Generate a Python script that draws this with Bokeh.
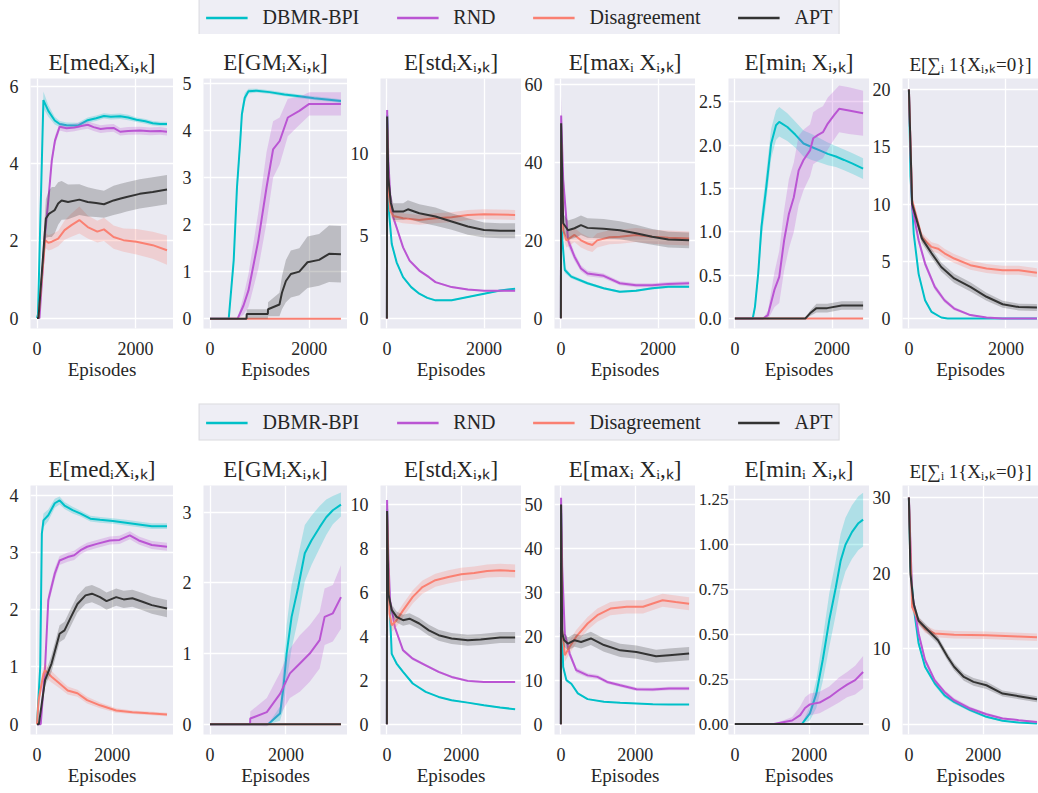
from bokeh.plotting import figure
from bokeh.models import Range1d, FixedTicker, NumeralTickFormatter, Legend, LegendItem
from bokeh.layouts import column, row
from bokeh.embed import file_html
from bokeh.resources import INLINE

# ---------------- data ----------------
METHODS = ["DBMR-BPI", "RND", "Disagreement", "APT"]
COLORS = ["#00C0C8", "#BA55D3", "#FA8072", "#333333"]
X_TICKS = [0, 2000]
X_LABEL = "Episodes"
TITLES = ["E[medᵢXᵢ,ₖ]", "E[GMᵢXᵢ,ₖ]", "E[stdᵢXᵢ,ₖ]",
          "E[maxᵢ Xᵢ,ₖ]", "E[minᵢ Xᵢ,ₖ]", "E[∑ᵢ 1{Xᵢ,ₖ=0}]"]

T_YTICKS = [[0, 2, 4, 6], [0, 1, 2, 3, 4, 5], [0, 5, 10], [0, 20, 40, 60],
            [0, 0.5, 1, 1.5, 2, 2.5], [0, 5, 10, 15, 20]]
B_YTICKS = [[0, 1, 2, 3, 4], [0, 1, 2, 3], [0, 2, 4, 6, 8, 10], [0, 10, 20, 30, 40, 50],
            [0, 0.25, 0.5, 0.75, 1, 1.25], [0, 10, 20, 30]]

ZERO_T_X = [0, 2640]
ZERO_B_X = [0, 3450]
ZERO_Y = [0, 0]
ZERO_E = [0, 0]

# ---- top row: median
T_MED_DBMR_X = [0, 20, 130, 230, 360, 460, 600, 830, 1030, 1200, 1360, 1500, 1690, 1850, 2020, 2200, 2350, 2500, 2640]
T_MED_DBMR_Y = [0, 0.1, 5.65, 5.37, 5.12, 5.03, 5.0, 4.99, 5.13, 5.18, 5.24, 5.22, 5.23, 5.2, 5.14, 5.1, 5.05, 5.03, 5.03]
T_MED_DBMR_E = [0, 0.05, 0.22, 0.15, 0.1, 0.08, 0.07, 0.07, 0.07, 0.07, 0.07, 0.07, 0.07, 0.07, 0.06, 0.06, 0.06, 0.06, 0.06]
T_MED_RND_X = [0, 50, 165, 230, 300, 365, 460, 600, 760, 900, 1030, 1150, 1290, 1420, 1555, 1690, 1850, 2085, 2300, 2500, 2640]
T_MED_RND_Y = [0, 0, 2.2, 3.05, 4.08, 4.6, 4.96, 4.92, 4.94, 4.98, 5.01, 4.95, 4.9, 4.92, 4.93, 4.83, 4.85, 4.86, 4.84, 4.85, 4.83]
T_MED_RND_E = [0, 0, 0.15, 0.15, 0.15, 0.12, 0.1, 0.1, 0.1, 0.1, 0.1, 0.1, 0.1, 0.1, 0.1, 0.1, 0.1, 0.1, 0.1, 0.1, 0.1]
T_MED_DIS_X = [0, 30, 165, 230, 300, 430, 560, 700, 860, 1030, 1225, 1360, 1555, 1755, 2020, 2350, 2640]
T_MED_DIS_Y = [0, 0, 2.02, 1.95, 1.98, 2.06, 2.28, 2.41, 2.54, 2.36, 2.24, 2.30, 2.1, 2.02, 1.98, 1.89, 1.76]
T_MED_DIS_E = [0, 0, 0.2, 0.2, 0.2, 0.2, 0.25, 0.3, 0.35, 0.3, 0.28, 0.3, 0.3, 0.3, 0.33, 0.35, 0.38]
T_MED_APT_X = [0, 30, 180, 240, 300, 360, 430, 500, 630, 860, 1030, 1200, 1360, 1555, 1700, 1820, 2085, 2350, 2640]
T_MED_APT_Y = [0, 0, 2.58, 2.7, 2.75, 2.8, 2.97, 3.05, 3.01, 3.07, 3.01, 2.98, 2.95, 3.05, 3.1, 3.14, 3.22, 3.27, 3.33]
T_MED_APT_E = [0, 0, 0.5, 0.6, 0.65, 0.6, 0.55, 0.5, 0.45, 0.4, 0.38, 0.36, 0.35, 0.38, 0.38, 0.38, 0.38, 0.38, 0.38]

# ---- top row: geometric mean
T_GM_DBMR_X = [0, 377, 477, 543, 609, 642, 700, 775, 940, 1200, 1500, 1800, 2100, 2400, 2640]
T_GM_DBMR_Y = [0, 0, 1.24, 2.79, 3.78, 4.35, 4.7, 4.84, 4.85, 4.82, 4.77, 4.73, 4.69, 4.66, 4.63]
T_GM_DBMR_E = [0, 0, 0.15, 0.2, 0.2, 0.15, 0.1, 0.05, 0.04, 0.04, 0.04, 0.04, 0.04, 0.04, 0.04]
T_GM_RND_X = [0, 556, 675, 775, 973, 1139, 1271, 1404, 1569, 1800, 2000, 2300, 2640]
T_GM_RND_Y = [0, 0, 0.28, 0.6, 1.66, 2.79, 3.6, 3.78, 4.28, 4.42, 4.57, 4.57, 4.57]
T_GM_RND_E = [0, 0, 0.2, 0.35, 0.6, 0.75, 0.6, 0.5, 0.4, 0.3, 0.25, 0.25, 0.25]
T_GM_APT_X = [0, 735, 740, 1165, 1170, 1400, 1450, 1530, 1630, 1800, 1965, 2200, 2400, 2640]
T_GM_APT_Y = [0, 0, 0.1, 0.1, 0.2, 0.3, 0.55, 0.8, 0.95, 1.0, 1.2, 1.25, 1.38, 1.37]
T_GM_APT_E = [0, 0, 0.1, 0.1, 0.15, 0.25, 0.35, 0.45, 0.5, 0.5, 0.55, 0.55, 0.6, 0.6]

# ---- top row: std
T_STD_DBMR_X = [0, 5, 25, 47, 100, 200, 333, 500, 667, 833, 1000, 1333, 1667, 2000, 2333, 2640]
T_STD_DBMR_Y = [0, 12.3, 9.0, 6.3, 4.5, 3.4, 2.5, 1.9, 1.5, 1.25, 1.1, 1.1, 1.3, 1.5, 1.7, 1.8]
T_STD_DBMR_E = [0, 0.5, 0.4, 0.3, 0.2, 0.1, 0.08, 0.06, 0.05, 0.05, 0.05, 0.05, 0.05, 0.05, 0.05, 0.05]
T_STD_RND_X = [0, 5, 30, 67, 120, 200, 333, 467, 667, 867, 1000, 1333, 1667, 2000, 2640]
T_STD_RND_Y = [0, 12.6, 9.5, 7.5, 6.2, 5.5, 4.3, 3.5, 2.9, 2.5, 2.2, 1.9, 1.75, 1.68, 1.68]
T_STD_RND_E = [0, 0.8, 0.5, 0.3, 0.2, 0.15, 0.1, 0.1, 0.08, 0.07, 0.06, 0.05, 0.05, 0.05, 0.05]
T_STD_DIS_X = [0, 5, 30, 70, 133, 333, 667, 1000, 1333, 1667, 2000, 2640]
T_STD_DIS_Y = [0, 11.5, 8.0, 6.5, 6.2, 6.06, 5.96, 6.06, 6.12, 6.26, 6.3, 6.26]
T_STD_DIS_E = [0, 0.8, 0.4, 0.3, 0.3, 0.3, 0.3, 0.3, 0.3, 0.3, 0.3, 0.3]
T_STD_APT_X = [0, 5, 30, 80, 133, 333, 433, 667, 1000, 1333, 1667, 2000, 2333, 2640]
T_STD_APT_Y = [0, 12.2, 8.5, 7.0, 6.46, 6.46, 6.6, 6.36, 6.16, 5.86, 5.56, 5.35, 5.3, 5.3]
T_STD_APT_E = [0, 0.5, 0.5, 0.5, 0.5, 0.5, 0.55, 0.55, 0.55, 0.5, 0.5, 0.45, 0.45, 0.45]

# ---- top row: max
T_MAX_DBMR_X = [0, 5, 30, 80, 213, 547, 880, 1213, 1547, 1880, 2213, 2640]
T_MAX_DBMR_Y = [0, 45, 20, 12.4, 10.7, 9.0, 7.7, 6.8, 7.1, 7.7, 8.1, 8.1]
T_MAX_DBMR_E = [0, 3, 1.5, 0.8, 0.5, 0.4, 0.3, 0.3, 0.3, 0.3, 0.3, 0.3]
T_MAX_RND_X = [0, 5, 47, 147, 280, 413, 547, 880, 1213, 1547, 1880, 2213, 2640]
T_MAX_RND_Y = [0, 52, 35.5, 20, 15.8, 12.8, 11.5, 10.9, 9.0, 8.5, 8.5, 8.8, 9.0]
T_MAX_RND_E = [0, 5, 3, 1.5, 1, 0.8, 0.7, 0.6, 0.5, 0.5, 0.5, 0.5, 0.5]
T_MAX_DIS_X = [0, 5, 47, 113, 280, 413, 547, 647, 747, 1000, 1213, 1547, 1880, 2213, 2640]
T_MAX_DIS_Y = [0, 45, 22.6, 20.0, 21.4, 20.0, 19.2, 18.8, 20.0, 20.8, 20.9, 21.4, 20.9, 20.7, 20.5]
T_MAX_DIS_E = [0, 3, 2, 1.8, 1.8, 1.8, 1.8, 1.8, 1.8, 1.8, 1.8, 1.8, 1.8, 1.8, 1.8]
T_MAX_APT_X = [0, 5, 47, 147, 280, 413, 547, 880, 1213, 1547, 1880, 2213, 2640]
T_MAX_APT_Y = [0, 50, 24.4, 22.6, 23.1, 23.9, 23.2, 23.0, 22.6, 21.8, 20.9, 20.2, 20.0]
T_MAX_APT_E = [0, 3, 2.5, 2.5, 2.5, 2.5, 2.5, 2.5, 2.3, 2.2, 2.0, 2.0, 2.0]

# ---- top row: min
T_MIN_DBMR_X = [0, 367, 413, 480, 547, 647, 747, 847, 913, 1080, 1247, 1413, 1580, 1747, 1913, 2080, 2247, 2413, 2640]
T_MIN_DBMR_Y = [0, 0, 0.135, 0.52, 1.06, 1.52, 2.02, 2.23, 2.27, 2.21, 2.12, 2.02, 1.98, 1.94, 1.9, 1.87, 1.83, 1.79, 1.73]
T_MIN_DBMR_E = [0, 0, 0.05, 0.1, 0.15, 0.17, 0.17, 0.17, 0.17, 0.16, 0.15, 0.15, 0.15, 0.14, 0.13, 0.12, 0.12, 0.12, 0.12]
T_MIN_RND_X = [0, 580, 680, 813, 913, 1013, 1113, 1213, 1313, 1413, 1547, 1613, 1713, 1813, 1913, 2047, 2147, 2347, 2640]
T_MIN_RND_Y = [0, 0, 0.04, 0.33, 0.48, 0.9, 1.21, 1.4, 1.71, 1.83, 1.94, 2.08, 2.12, 2.15, 2.25, 2.35, 2.42, 2.4, 2.37]
T_MIN_RND_E = [0, 0, 0.05, 0.2, 0.3, 0.35, 0.4, 0.4, 0.4, 0.35, 0.3, 0.3, 0.3, 0.3, 0.3, 0.28, 0.27, 0.27, 0.26]
T_MIN_APT_X = [0, 1450, 1547, 1680, 1900, 2200, 2640]
T_MIN_APT_Y = [0, 0, 0.06, 0.12, 0.12, 0.15, 0.15]
T_MIN_APT_E = [0, 0, 0.03, 0.05, 0.05, 0.05, 0.05]

# ---- top row: number of zeros
T_ZER_DBMR_X = [0, 33, 100, 200, 333, 467, 667, 800, 2640]
T_ZER_DBMR_Y = [20, 12.4, 7.4, 3.9, 1.6, 0.58, 0.09, 0, 0]
T_ZER_DBMR_E = [0, 0.4, 0.3, 0.25, 0.15, 0.1, 0.03, 0, 0]
T_ZER_RND_X = [0, 67, 200, 333, 533, 733, 933, 1267, 1600, 1933, 2640]
T_ZER_RND_Y = [20, 9.75, 6.84, 4.8, 2.77, 1.6, 0.87, 0.3, 0.09, 0.0, 0.0]
T_ZER_RND_E = [0, 0.4, 0.3, 0.3, 0.25, 0.2, 0.15, 0.08, 0.03, 0, 0]
T_ZER_DIS_X = [0, 67, 267, 467, 600, 733, 933, 1267, 1600, 1933, 2267, 2640]
T_ZER_DIS_Y = [20, 10.3, 7.1, 6.26, 6.1, 5.7, 5.24, 4.66, 4.37, 4.22, 4.22, 4.0]
T_ZER_DIS_E = [0, 0.4, 0.4, 0.4, 0.4, 0.4, 0.4, 0.4, 0.4, 0.4, 0.4, 0.4]
T_ZER_APT_X = [0, 67, 267, 467, 667, 933, 1267, 1600, 1933, 2267, 2640]
T_ZER_APT_Y = [20, 10, 7, 5.7, 4.5, 3.5, 2.77, 1.9, 1.25, 1.0, 0.96]
T_ZER_APT_E = [0, 0.4, 0.4, 0.4, 0.4, 0.4, 0.4, 0.35, 0.3, 0.3, 0.3]

# ---- bottom row: median
B_MED_DBMR_X = [0, 86, 129, 172, 300, 472, 600, 730, 944, 1158, 1416, 1673, 2016, 2360, 2703, 3046, 3450]
B_MED_DBMR_Y = [0, 1.0, 3.33, 3.56, 3.65, 3.86, 3.91, 3.82, 3.74, 3.68, 3.59, 3.57, 3.55, 3.52, 3.49, 3.46, 3.46]
B_MED_DBMR_E = [0, 0.1, 0.12, 0.12, 0.1, 0.08, 0.07, 0.06, 0.06, 0.05, 0.05, 0.05, 0.05, 0.05, 0.05, 0.05, 0.05]
B_MED_RND_X = [0, 100, 215, 300, 472, 600, 815, 987, 1158, 1330, 1587, 1931, 2188, 2463, 2703, 3046, 3450]
B_MED_RND_Y = [0, 0, 1.0, 2.17, 2.63, 2.86, 2.92, 2.95, 3.04, 3.1, 3.15, 3.21, 3.22, 3.3, 3.21, 3.13, 3.1]
B_MED_RND_E = [0, 0, 0.1, 0.1, 0.1, 0.08, 0.08, 0.08, 0.07, 0.07, 0.07, 0.07, 0.07, 0.07, 0.07, 0.07, 0.07]
B_MED_DIS_X = [0, 43, 172, 215, 386, 600, 815, 1073, 1330, 1673, 2102, 2531, 2960, 3450]
B_MED_DIS_Y = [0, 0.42, 0.88, 0.94, 0.83, 0.71, 0.59, 0.54, 0.42, 0.33, 0.24, 0.21, 0.19, 0.17]
B_MED_DIS_E = [0, 0.1, 0.12, 0.12, 0.1, 0.08, 0.07, 0.06, 0.06, 0.05, 0.04, 0.03, 0.03, 0.03]
B_MED_APT_X = [0, 50, 215, 386, 600, 730, 900, 1073, 1287, 1459, 1673, 1845, 2102, 2300, 2531, 2800, 3046, 3450]
B_MED_APT_Y = [0, 0, 0.77, 1.06, 1.58, 1.64, 1.87, 2.1, 2.25, 2.28, 2.22, 2.15, 2.22, 2.18, 2.2, 2.14, 2.08, 2.02]
B_MED_APT_E = [0, 0, 0.1, 0.15, 0.15, 0.15, 0.15, 0.15, 0.15, 0.15, 0.15, 0.15, 0.15, 0.15, 0.15, 0.15, 0.15, 0.15]

# ---- bottom row: geometric mean
B_GM_DBMR_X = [0, 1530, 1844, 1930, 2018, 2149, 2323, 2497, 2671, 2888, 3062, 3236, 3450]
B_GM_DBMR_Y = [0, 0, 0.15, 0.5, 1.0, 1.52, 1.94, 2.42, 2.6, 2.79, 2.93, 3.03, 3.11]
B_GM_DBMR_E = [0, 0, 0.1, 0.3, 0.4, 0.45, 0.45, 0.4, 0.35, 0.3, 0.25, 0.2, 0.17]
B_GM_RND_X = [0, 1055, 1060, 1496, 1844, 2105, 2366, 2627, 2888, 3019, 3236, 3450]
B_GM_RND_Y = [0, 0, 0.08, 0.17, 0.43, 0.72, 0.86, 1.0, 1.19, 1.52, 1.57, 1.8]
B_GM_RND_E = [0, 0, 0.1, 0.2, 0.3, 0.35, 0.4, 0.4, 0.4, 0.4, 0.4, 0.45]

# ---- bottom row: std
B_STD_DBMR_X = [0, 5, 30, 70, 130, 261, 435, 696, 1044, 1392, 1740, 2175, 2610, 3045, 3450]
B_STD_DBMR_Y = [0, 9.8, 7.5, 5.6, 3.2, 2.76, 2.38, 1.85, 1.47, 1.24, 1.09, 0.98, 0.86, 0.76, 0.68]
B_STD_DBMR_E = [0, 0.4, 0.3, 0.2, 0.1, 0.06, 0.05, 0.04, 0.03, 0.03, 0.03, 0.03, 0.03, 0.03, 0.03]
B_STD_RND_X = [0, 5, 40, 87, 217, 435, 696, 1044, 1392, 1740, 2175, 2610, 3450]
B_STD_RND_Y = [0, 10.2, 7.5, 5.6, 4.4, 3.36, 2.98, 2.68, 2.38, 2.15, 1.97, 1.92, 1.92]
B_STD_RND_E = [0, 0.4, 0.3, 0.2, 0.1, 0.08, 0.07, 0.06, 0.05, 0.05, 0.05, 0.05, 0.05]
B_STD_DIS_X = [0, 5, 70, 130, 261, 435, 696, 957, 1305, 1653, 2001, 2349, 2697, 3045, 3450]
B_STD_DIS_Y = [0, 9.5, 5.03, 4.5, 4.73, 5.18, 5.79, 6.24, 6.55, 6.7, 6.82, 6.88, 6.97, 7.0, 6.97]
B_STD_DIS_E = [0, 0.5, 0.3, 0.3, 0.3, 0.3, 0.3, 0.3, 0.3, 0.3, 0.3, 0.3, 0.3, 0.3, 0.3]
B_STD_APT_X = [0, 5, 43, 130, 261, 435, 609, 870, 1131, 1392, 1740, 2175, 2523, 3045, 3450]
B_STD_APT_Y = [0, 9.7, 5.9, 5.2, 4.88, 4.73, 4.8, 4.58, 4.27, 4.05, 3.9, 3.82, 3.85, 3.94, 3.94]
B_STD_APT_E = [0, 0.4, 0.3, 0.25, 0.25, 0.25, 0.25, 0.25, 0.25, 0.25, 0.25, 0.25, 0.25, 0.25, 0.25]

# ---- bottom row: max
B_MAX_DBMR_X = [0, 5, 35, 61, 149, 281, 456, 719, 1158, 1596, 2035, 2473, 2912, 3450]
B_MAX_DBMR_Y = [0, 48, 20.6, 13, 10, 9.2, 7, 5.7, 5.1, 4.85, 4.7, 4.55, 4.47, 4.47]
B_MAX_DBMR_E = [0, 2, 1.5, 0.8, 0.4, 0.3, 0.2, 0.15, 0.1, 0.1, 0.1, 0.1, 0.1, 0.1]
B_MAX_RND_X = [0, 5, 35, 105, 237, 412, 719, 982, 1245, 1596, 2035, 2473, 2912, 3450]
B_MAX_RND_Y = [0, 51.5, 35.8, 20.6, 16, 12.3, 11.1, 10.76, 9.6, 8.86, 7.95, 7.88, 8.1, 8.1]
B_MAX_RND_E = [0, 2, 2, 1, 0.8, 0.6, 0.5, 0.5, 0.4, 0.4, 0.4, 0.4, 0.4, 0.4]
B_MAX_DIS_X = [0, 5, 35, 105, 237, 412, 719, 982, 1333, 1772, 2210, 2736, 3087, 3450]
B_MAX_DIS_Y = [0, 45, 21.4, 15.7, 17.6, 19.9, 22.9, 24.8, 26.3, 26.7, 26.7, 28.2, 27.8, 27.4]
B_MAX_DIS_E = [0, 2, 1.5, 1.5, 1.5, 1.5, 1.5, 1.5, 1.5, 1.5, 1.5, 1.5, 1.5, 1.5]
B_MAX_APT_X = [0, 5, 35, 88, 193, 368, 544, 807, 1158, 1596, 2035, 2561, 2912, 3450]
B_MAX_APT_Y = [0, 50, 20.6, 19.1, 18.3, 19.1, 18.7, 19.5, 18.0, 16.8, 16.4, 15.45, 15.7, 16.06]
B_MAX_APT_E = [0, 2, 1.5, 1.5, 1.5, 1.5, 1.5, 1.5, 1.5, 1.5, 1.5, 1.5, 1.5, 1.5]

# ---- bottom row: min
B_MIN_DBMR_X = [0, 1800, 2018, 2192, 2366, 2540, 2714, 2845, 2975, 3149, 3323, 3450]
B_MIN_DBMR_Y = [0, 0, 0.06, 0.17, 0.36, 0.58, 0.76, 0.91, 1.0, 1.07, 1.12, 1.14]
B_MIN_DBMR_E = [0, 0, 0.04, 0.08, 0.12, 0.15, 0.15, 0.15, 0.15, 0.15, 0.15, 0.15]
B_MIN_RND_X = [0, 1050, 1540, 1757, 1888, 2018, 2279, 2540, 2801, 3019, 3236, 3450]
B_MIN_RND_Y = [0, 0, 0.02, 0.05, 0.09, 0.11, 0.12, 0.15, 0.19, 0.22, 0.245, 0.29]
B_MIN_RND_E = [0, 0, 0.02, 0.05, 0.06, 0.06, 0.06, 0.06, 0.07, 0.07, 0.08, 0.09]

# ---- bottom row: number of zeros
B_ZER_DBMR_X = [0, 43, 130, 261, 435, 696, 957, 1218, 1653, 2088, 2523, 2958, 3450]
B_ZER_DBMR_Y = [30, 20.8, 15.5, 10.7, 7.6, 5.4, 3.83, 2.95, 1.85, 0.97, 0.44, 0.22, 0.09]
B_ZER_DBMR_E = [0, 0.6, 0.5, 0.4, 0.3, 0.3, 0.3, 0.25, 0.2, 0.15, 0.1, 0.08, 0.05]
B_ZER_RND_X = [0, 87, 261, 435, 696, 957, 1218, 1653, 2088, 2523, 2958, 3450]
B_ZER_RND_Y = [30, 17.3, 12, 8.5, 5.8, 4.27, 3.17, 2.07, 1.32, 0.75, 0.53, 0.3]
B_ZER_RND_E = [0, 0.6, 0.5, 0.4, 0.3, 0.3, 0.3, 0.25, 0.2, 0.15, 0.1, 0.1]
B_ZER_DIS_X = [0, 87, 261, 435, 696, 1218, 2088, 2958, 3450]
B_ZER_DIS_Y = [30, 15.5, 13.7, 12.6, 12.0, 11.85, 11.76, 11.6, 11.5]
B_ZER_DIS_E = [0, 0.5, 0.5, 0.5, 0.5, 0.5, 0.5, 0.5, 0.5]
B_ZER_APT_X = [0, 43, 130, 261, 522, 783, 1044, 1218, 1479, 1740, 2088, 2523, 2958, 3450]
B_ZER_APT_Y = [30, 19.9, 15.9, 13.7, 12.4, 11.1, 8.9, 7.6, 6.25, 5.6, 5.15, 4.05, 3.7, 3.3]
B_ZER_APT_E = [0, 0.5, 0.5, 0.5, 0.5, 0.5, 0.5, 0.5, 0.5, 0.5, 0.5, 0.4, 0.4, 0.4]

TOP_SERIES = [
    [(T_MED_DBMR_X, T_MED_DBMR_Y, T_MED_DBMR_E), (T_MED_RND_X, T_MED_RND_Y, T_MED_RND_E),
     (T_MED_DIS_X, T_MED_DIS_Y, T_MED_DIS_E), (T_MED_APT_X, T_MED_APT_Y, T_MED_APT_E)],
    [(T_GM_DBMR_X, T_GM_DBMR_Y, T_GM_DBMR_E), (T_GM_RND_X, T_GM_RND_Y, T_GM_RND_E),
     (ZERO_T_X, ZERO_Y, ZERO_E), (T_GM_APT_X, T_GM_APT_Y, T_GM_APT_E)],
    [(T_STD_DBMR_X, T_STD_DBMR_Y, T_STD_DBMR_E), (T_STD_RND_X, T_STD_RND_Y, T_STD_RND_E),
     (T_STD_DIS_X, T_STD_DIS_Y, T_STD_DIS_E), (T_STD_APT_X, T_STD_APT_Y, T_STD_APT_E)],
    [(T_MAX_DBMR_X, T_MAX_DBMR_Y, T_MAX_DBMR_E), (T_MAX_RND_X, T_MAX_RND_Y, T_MAX_RND_E),
     (T_MAX_DIS_X, T_MAX_DIS_Y, T_MAX_DIS_E), (T_MAX_APT_X, T_MAX_APT_Y, T_MAX_APT_E)],
    [(T_MIN_DBMR_X, T_MIN_DBMR_Y, T_MIN_DBMR_E), (T_MIN_RND_X, T_MIN_RND_Y, T_MIN_RND_E),
     (ZERO_T_X, ZERO_Y, ZERO_E), (T_MIN_APT_X, T_MIN_APT_Y, T_MIN_APT_E)],
    [(T_ZER_DBMR_X, T_ZER_DBMR_Y, T_ZER_DBMR_E), (T_ZER_RND_X, T_ZER_RND_Y, T_ZER_RND_E),
     (T_ZER_DIS_X, T_ZER_DIS_Y, T_ZER_DIS_E), (T_ZER_APT_X, T_ZER_APT_Y, T_ZER_APT_E)],
]
BOT_SERIES = [
    [(B_MED_DBMR_X, B_MED_DBMR_Y, B_MED_DBMR_E), (B_MED_RND_X, B_MED_RND_Y, B_MED_RND_E),
     (B_MED_DIS_X, B_MED_DIS_Y, B_MED_DIS_E), (B_MED_APT_X, B_MED_APT_Y, B_MED_APT_E)],
    [(B_GM_DBMR_X, B_GM_DBMR_Y, B_GM_DBMR_E), (B_GM_RND_X, B_GM_RND_Y, B_GM_RND_E),
     (ZERO_B_X, ZERO_Y, ZERO_E), (ZERO_B_X, ZERO_Y, ZERO_E)],
    [(B_STD_DBMR_X, B_STD_DBMR_Y, B_STD_DBMR_E), (B_STD_RND_X, B_STD_RND_Y, B_STD_RND_E),
     (B_STD_DIS_X, B_STD_DIS_Y, B_STD_DIS_E), (B_STD_APT_X, B_STD_APT_Y, B_STD_APT_E)],
    [(B_MAX_DBMR_X, B_MAX_DBMR_Y, B_MAX_DBMR_E), (B_MAX_RND_X, B_MAX_RND_Y, B_MAX_RND_E),
     (B_MAX_DIS_X, B_MAX_DIS_Y, B_MAX_DIS_E), (B_MAX_APT_X, B_MAX_APT_Y, B_MAX_APT_E)],
    [(B_MIN_DBMR_X, B_MIN_DBMR_Y, B_MIN_DBMR_E), (B_MIN_RND_X, B_MIN_RND_Y, B_MIN_RND_E),
     (ZERO_B_X, ZERO_Y, ZERO_E), (ZERO_B_X, ZERO_Y, ZERO_E)],
    [(B_ZER_DBMR_X, B_ZER_DBMR_Y, B_ZER_DBMR_E), (B_ZER_RND_X, B_ZER_RND_Y, B_ZER_RND_E),
     (B_ZER_DIS_X, B_ZER_DIS_Y, B_ZER_DIS_E), (B_ZER_APT_X, B_ZER_APT_Y, B_ZER_APT_E)],
]

# ---------------- styling / layout ----------------
FONT = "Liberation Serif, serif"
TXT = "#262626"
BG = "#EAEAF2"

T_YLIM = [(-0.27, 6.21), (-0.21, 5.11), (-0.6, 14.5), (-2.6, 61.5), (-0.115, 2.77), (-0.87, 20.96)]
B_YLIM = [(-0.18, 4.17), (-0.146, 3.38), (-0.47, 10.86), (-2.35, 54.3), (-0.058, 1.33), (-1.37, 31.6)]
T_XLIM = [(-132, 2772)] * 5 + [(-132, 2672)]
B_XLIM = [(-172, 3622)] * 5 + [(-172, 3491)]
FRAME_W = [143, 144, 144, 144, 144, 139]
BORDER_L = [30, 30, 30, 30, 30, 30]
T_FMT = [None, None, None, None, "0.0", None]
B_FMT = [None, None, None, None, "0.00", None]
T_STANDOFF = [12, 12, 12, 12, 7, 12]
B_STANDOFF = [12, 12, 12, 12, 0, 12]
TITLE_SIZE = ["23px"] * 5 + ["19px"]


def make_panel(i, title, series, xlim, ylim, yticks, yfmt, ystd, top, frame_h, bottom, ylab_size="18px"):
    p = figure(width=BORDER_L[i] + FRAME_W[i], height=top + frame_h + bottom,
               x_range=Range1d(*xlim), y_range=Range1d(*ylim),
               output_backend="svg", toolbar_location=None,
               min_border_left=BORDER_L[i], min_border_right=0,
               min_border_top=top, min_border_bottom=bottom,
               background_fill_color=BG, border_fill_color="white",
               outline_line_color=None, title=title)
    p.title.align = "center"
    p.title.text_font = FONT
    p.title.text_font_size = TITLE_SIZE[i]
    p.title.text_font_style = "normal"
    p.title.text_color = TXT
    p.title.standoff = 7

    p.xaxis.ticker = FixedTicker(ticks=X_TICKS)
    p.yaxis.ticker = FixedTicker(ticks=yticks)
    if yfmt:
        p.yaxis.formatter = NumeralTickFormatter(format=yfmt)
    for ax in (p.xaxis[0], p.yaxis[0]):
        ax.axis_line_color = None
        ax.major_tick_line_color = None
        ax.minor_tick_line_color = None
        ax.major_tick_out = 0
        ax.major_tick_in = 0
        ax.major_label_text_font = FONT
        ax.major_label_text_color = TXT
    p.xaxis.major_label_text_font_size = "18px"
    p.yaxis.major_label_text_font_size = ylab_size
    p.xaxis.major_label_standoff = 13
    p.yaxis.major_label_standoff = ystd
    p.xaxis.axis_label = X_LABEL
    p.xaxis.axis_label_text_font = FONT
    p.xaxis.axis_label_text_font_size = "19px"
    p.xaxis.axis_label_text_font_style = "normal"
    p.xaxis.axis_label_text_color = TXT
    p.xaxis.axis_label_standoff = 1
    p.grid.grid_line_color = "white"
    p.grid.grid_line_width = 1.3

    for (x, y, e), color in zip(series, COLORS):
        lo = [a - b for a, b in zip(y, e)]
        hi = [a + b for a, b in zip(y, e)]
        p.varea(x=x, y1=lo, y2=hi, fill_color=color, fill_alpha=0.25)
        p.line(x=x, y=y, line_color=color, line_width=2)
    return p


def make_legend(height):
    p = figure(width=1038, height=height, output_backend="svg", toolbar_location=None,
               x_range=Range1d(0, 1), y_range=Range1d(0, 1),
               x_axis_type=None, y_axis_type=None, min_border=0,
               outline_line_color=None, border_fill_color="white", background_fill_color="white")
    items = []
    nan = float("nan")
    for name, color in zip(METHODS, COLORS):
        r = p.line(x=[nan], y=[nan], line_color=color, line_width=2.5)
        items.append(LegendItem(label=name, renderers=[r]))
    leg = Legend(items=items, orientation="horizontal", location="center",
                 background_fill_color=BG, background_fill_alpha=0.8,
                 border_line_color="#CCCCCC", border_line_width=1,
                 label_text_font=FONT, label_text_font_size="20px", label_text_color=TXT,
                 glyph_width=42, glyph_height=20, label_standoff=15, spacing=37,
                 padding=6, margin=0)
    p.add_layout(leg, "center")
    return p


top_figs = [make_panel(i, TITLES[i], TOP_SERIES[i], T_XLIM[i], T_YLIM[i], T_YTICKS[i],
                       T_FMT[i], T_STANDOFF[i], 44, 250, 72) for i in range(6)]
bot_figs = [make_panel(i, TITLES[i], BOT_SERIES[i], B_XLIM[i], B_YLIM[i], B_YTICKS[i],
                       B_FMT[i], B_STANDOFF[i], 41, 249, 59,
                       ylab_size="17px" if i == 4 else "18px") for i in range(6)]

layout = column(make_legend(34), row(*top_figs), make_legend(44), row(*bot_figs))
open("out.html", "w").write(file_html(layout, INLINE))
